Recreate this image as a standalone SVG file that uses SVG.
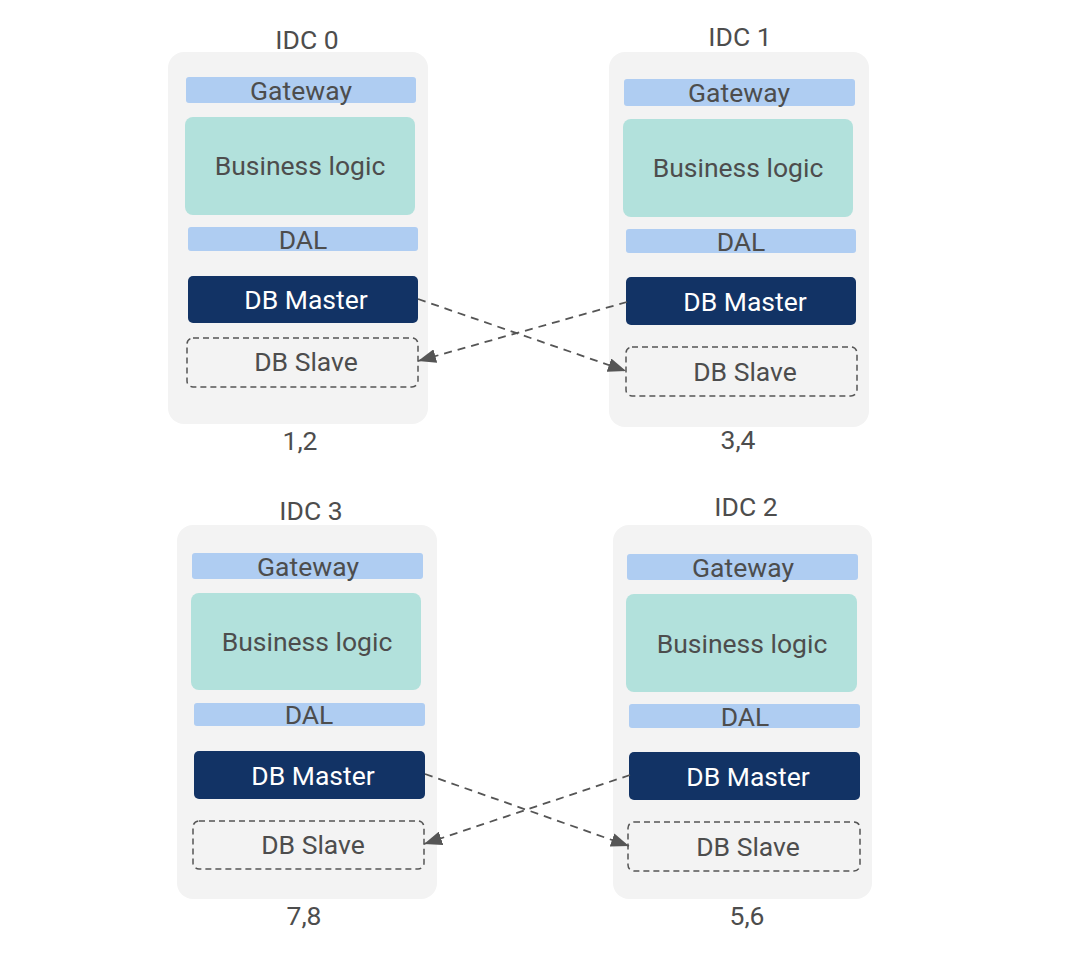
<svg xmlns="http://www.w3.org/2000/svg" width="1069" height="958" viewBox="0 0 1069 958">
<style>
text{font-family:Roboto,"Liberation Sans",sans-serif;font-size:26.5px;fill:#4d4d4d;text-anchor:middle;dominant-baseline:central}
.idc{fill:#f3f3f3}
.gw{fill:#afcdf2}
.bl{fill:#b2e1dc}
.m{fill:#123365}
.wt{fill:#ffffff}
.s{fill:#f3f3f3;stroke:#555555;stroke-width:1.5;stroke-dasharray:6,4}
.c{fill:none;stroke:#555555;stroke-width:1.8;stroke-dasharray:8,6}
</style>
<defs>
<marker id="ah" viewBox="0 0 18 14" refX="18" refY="7" markerWidth="18" markerHeight="14" markerUnits="userSpaceOnUse" orient="auto">
<path d="M0,0 L18,7 L0,14 Z" fill="#555555"/>
</marker>
</defs>
<rect width="1069" height="958" fill="#ffffff"/>
<g id="idc0">
<rect class="idc" x="168" y="52" width="260" height="372" rx="16"/>
<text x="307" y="39">IDC 0</text>
<rect class="gw" x="186" y="77" width="230" height="26" rx="3"/>
<text x="301" y="90">Gateway</text>
<rect class="bl" x="185" y="117" width="230" height="98" rx="8"/>
<text x="300" y="165">Business logic</text>
<rect class="gw" x="188" y="227" width="230" height="24" rx="3"/>
<text x="303" y="239">DAL</text>
<rect class="m" x="188" y="276" width="230" height="47" rx="5"/>
<text class="wt" x="306" y="299">DB Master</text>
<rect class="s" x="187" y="338" width="231" height="49" rx="6"/>
<text x="306" y="361">DB Slave</text>
<text x="300" y="440">1,2</text>
</g>
<g id="idc1">
<rect class="idc" x="609" y="52" width="260" height="375" rx="16"/>
<text x="740" y="36">IDC 1</text>
<rect class="gw" x="624" y="79" width="231" height="27" rx="3"/>
<text x="739" y="92">Gateway</text>
<rect class="bl" x="623" y="119" width="230" height="98" rx="8"/>
<text x="738" y="167">Business logic</text>
<rect class="gw" x="626" y="229" width="230" height="24" rx="3"/>
<text x="741" y="241">DAL</text>
<rect class="m" x="626" y="277" width="230" height="48" rx="5"/>
<text class="wt" x="745" y="301">DB Master</text>
<rect class="s" x="626" y="347" width="231" height="49" rx="6"/>
<text x="745" y="371">DB Slave</text>
<text x="738" y="439">3,4</text>
</g>
<g id="idc3">
<rect class="idc" x="177" y="525" width="260" height="374" rx="16"/>
<text x="311" y="510">IDC 3</text>
<rect class="gw" x="192" y="553" width="231" height="26" rx="3"/>
<text x="308" y="566">Gateway</text>
<rect class="bl" x="191" y="593" width="230" height="97" rx="8"/>
<text x="307" y="641">Business logic</text>
<rect class="gw" x="194" y="703" width="231" height="23" rx="3"/>
<text x="309" y="714">DAL</text>
<rect class="m" x="194" y="751" width="231" height="48" rx="5"/>
<text class="wt" x="313" y="775">DB Master</text>
<rect class="s" x="193" y="821" width="231" height="48" rx="6"/>
<text x="313" y="844">DB Slave</text>
<text x="304" y="915">7,8</text>
</g>
<g id="idc2">
<rect class="idc" x="613" y="525" width="259" height="374" rx="16"/>
<text x="746" y="506">IDC 2</text>
<rect class="gw" x="627" y="554" width="231" height="26" rx="3"/>
<text x="743" y="567">Gateway</text>
<rect class="bl" x="626" y="594" width="231" height="98" rx="8"/>
<text x="742" y="643">Business logic</text>
<rect class="gw" x="629" y="704" width="231" height="24" rx="3"/>
<text x="745" y="716">DAL</text>
<rect class="m" x="629" y="752" width="231" height="48" rx="5"/>
<text class="wt" x="748" y="776">DB Master</text>
<rect class="s" x="628" y="822" width="232" height="49" rx="6"/>
<text x="748" y="846">DB Slave</text>
<text x="747" y="915">5,6</text>
</g>
<g id="connectors">
<line class="c" x1="418" y1="299" x2="626" y2="371" marker-end="url(#ah)"/>
<line class="c" x1="627" y1="302" x2="418" y2="361" marker-end="url(#ah)"/>
<line class="c" x1="425" y1="774" x2="629" y2="846" marker-end="url(#ah)"/>
<line class="c" x1="630" y1="775" x2="424" y2="844" marker-end="url(#ah)"/>
</g>
</svg>
